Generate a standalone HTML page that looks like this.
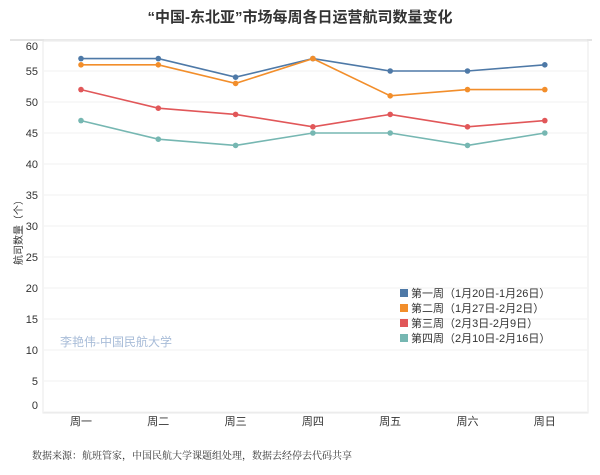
<!DOCTYPE html>
<html><head><meta charset="utf-8"><style>
body{margin:0;width:600px;height:470px;background:#fff;font-family:"Liberation Sans","Noto Sans CJK SC",sans-serif;overflow:hidden}
</style></head><body>
<svg id="chart" width="600" height="470" xmlns="http://www.w3.org/2000/svg">
<text x="300" y="22" text-anchor="middle" font-size="15" font-weight="bold" fill="#333" font-family="Liberation Sans,Noto Sans CJK SC,sans-serif">“中国-东北亚”市场每周各日运营航司数量变化</text>
<line x1="10" y1="40" x2="592" y2="40" stroke="#e4e4e4" stroke-width="2"/>
<rect x="43" y="41" width="545" height="372" fill="none" stroke="#e8e8e8"/>
<g id="grid"></g><g id="yticks"></g><g id="xticks"></g><g id="series"></g>
<text transform="translate(22,230) rotate(-90)" text-anchor="middle" font-size="10" fill="#333" font-family="Liberation Sans,Noto Sans CJK SC,sans-serif">航司数量（个）</text>
<text x="60" y="346" font-size="12" fill="#a8bcd8" font-family="Liberation Sans,Noto Sans CJK SC,sans-serif">李艳伟-中国民航大学</text>
<g id="legend"></g>
<text x="32" y="459" font-size="10" fill="#333" font-family="Liberation Serif,Noto Serif CJK SC,serif">数据来源：航班管家，中国民航大学课题组处理，数据去经停去代码共享</text>
</svg>
<script>
const categories=["周一","周二","周三","周四","周五","周六","周日"];
const seriesNames=["第一周（1月20日-1月26日）","第二周（1月27日-2月2日）","第三周（2月3日-2月9日）","第四周（2月10日-2月16日）"];
const week1=[57,57,54,57,55,55,56];
const week2=[56,56,53,57,51,52,52];
const week3=[52,49,48,46,48,46,47];
const week4=[47,44,43,45,45,43,45];
const yTicks=[0,5,10,15,20,25,30,35,40,45,50,55,60];
const colors=["#4e79a7","#f28e2b","#e15759","#76b7b2"];
const allSeries=[week1,week2,week3,week4];
const NS="http://www.w3.org/2000/svg";
const y=v=>412-v*6.2;
const x=i=>81+i*77.3;
function mk(t,a,p){const e=document.createElementNS(NS,t);for(const k in a)e.setAttribute(k,a[k]);p.appendChild(e);return e;}
const F="Liberation Sans,Noto Sans CJK SC,sans-serif";
yTicks.forEach(v=>{
 const l=mk("line",{x1:44,x2:587,y1:y(v),y2:y(v),stroke:"#f0f0f0"},document.getElementById("grid"));
 
 
 const ly=Math.max(46,Math.min(405,y(v)));
 const t=mk("text",{x:38,y:ly+4,"text-anchor":"end","font-size":11,fill:"#333","font-family":F},document.getElementById("yticks"));
 t.textContent=v;
 
 
});
categories.forEach((c,i)=>{
 const t=mk("text",{x:x(i),y:425,"text-anchor":"middle","font-size":11,fill:"#333","font-family":F},document.getElementById("xticks"));
 t.textContent=c;
 
 
});
const sg=document.getElementById("series");
allSeries.forEach((s,k)=>{
 const p=mk("polyline",{points:s.map((v,i)=>x(i)+","+y(v)).join(" "),fill:"none",stroke:colors[k],"stroke-width":1.6},sg);
 
 
 s.forEach((v,i)=>{
  const c=mk("circle",{cx:x(i),cy:y(v),r:2.8,fill:colors[k]},sg);
  
  
 });
});
const lg=document.getElementById("legend");
seriesNames.forEach((n,k)=>{
 const yy=297+k*15;
 const r=mk("rect",{x:400,y:yy-8,width:8,height:8,fill:colors[k]},lg);
 
 
 const t=mk("text",{x:411,y:yy,"font-size":11,fill:"#333","font-family":F},lg);
 t.textContent=n;
 
 
});
</script>
</body></html>
